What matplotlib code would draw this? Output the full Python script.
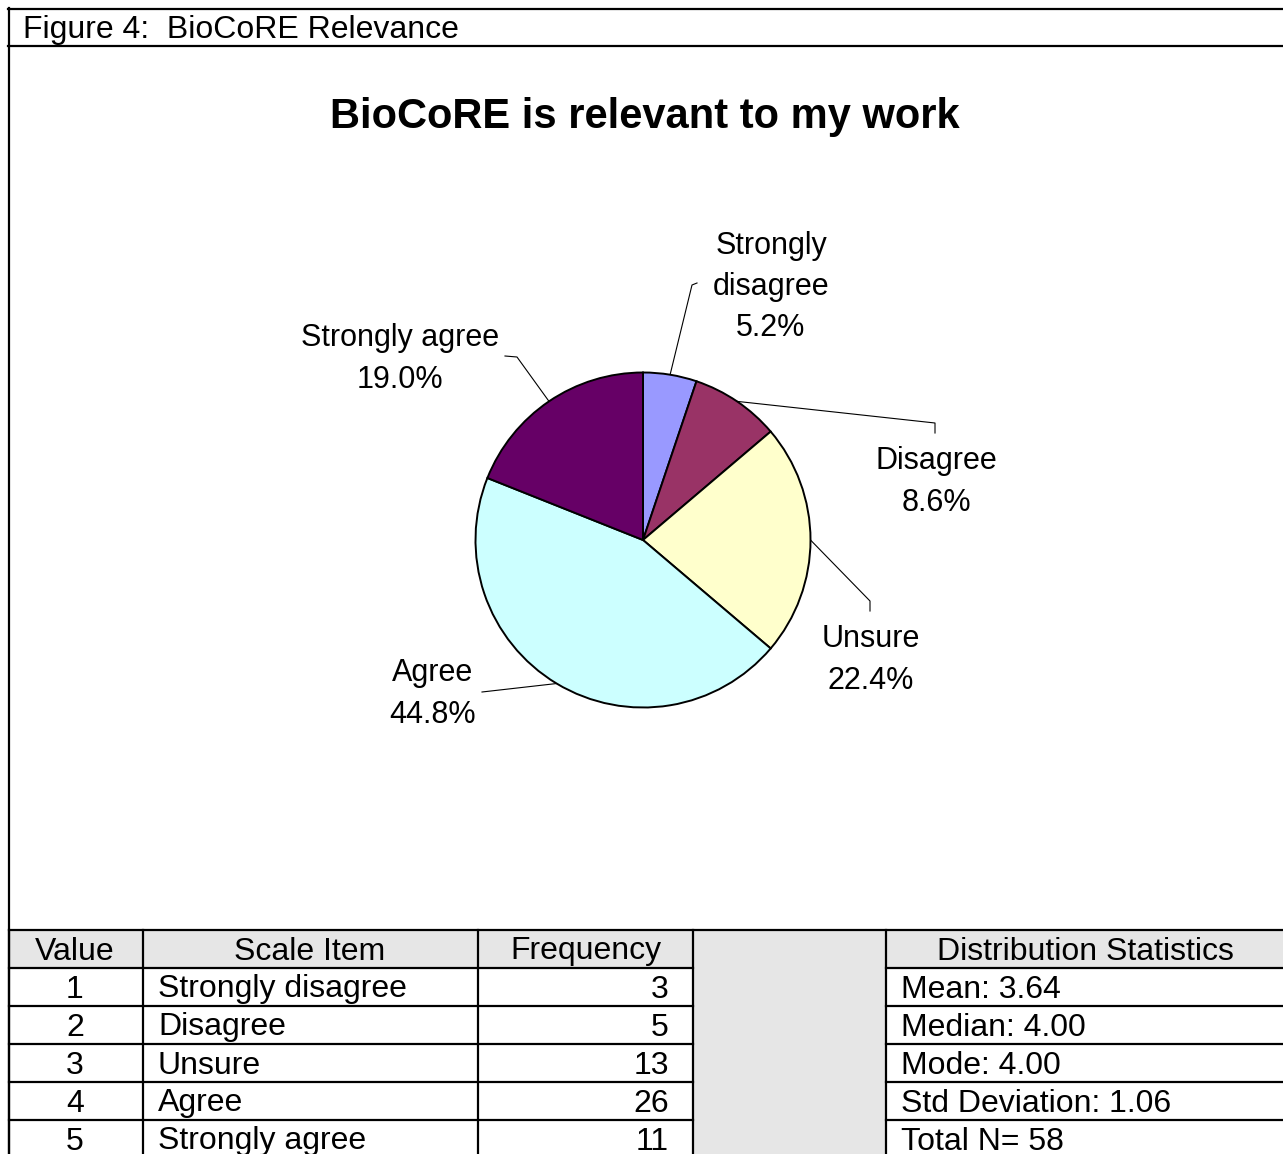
import numpy as np
import matplotlib
matplotlib.use("Agg")
import matplotlib.pyplot as plt

plt.rcParams["font.family"] = ["Liberation Sans", "DejaVu Sans"]

# data
values = [1, 2, 3, 4, 5]
scale_items = ["Strongly disagree", "Disagree", "Unsure", "Agree", "Strongly agree"]
frequency = [3, 5, 13, 26, 11]
pie_labels = ["Strongly\ndisagree", "Disagree", "Unsure", "Agree", "Strongly agree"]
colors = ["#9999FF", "#993366", "#FFFFCC", "#CCFFFF", "#660066"]
stat_names = ["Mean: ", "Median: ", "Mode: ", "Std Deviation: ", "Total N= "]
stat_values = ["3.64", "4.00", "4.00", "1.06", "58"]

W, H = 1283, 1154

# label layout in pixels: text centre, leader elbow points
label_pos = [(771, 287), (936, 482), (871, 660), (433, 694), (400, 359)]
leader_pts = [
    [(692, 285), (697, 283)],
    [(935, 423), (935, 433)],
    [(870, 601), (870, 611)],
    [(482, 692)],
    [(517, 357), (505, 356)],
]

fig = plt.figure(figsize=(W / 100, H / 100), dpi=100)
fig.patch.set_facecolor("white")

# overlay in pixel coords
ov = fig.add_axes([0, 0, 1, 1])
ov.set_xlim(0, W)
ov.set_ylim(H, 0)
ov.axis("off")

# pie
cx, cy, r = 643, 540, 167.5
axp = fig.add_axes([(cx - r) / W, 1 - (cy + r) / H, 2 * r / W, 2 * r / H])
wedges, _ = axp.pie(frequency, colors=colors, startangle=90, counterclock=False,
                    wedgeprops=dict(edgecolor="black", linewidth=1.4))
axp.set_xlim(-1, 1)
axp.set_ylim(-1, 1)
axp.set_aspect("equal")
axp.axis("off")

pct = [100 * f / sum(frequency) for f in frequency]
for w, lab, p, pos, pts in zip(wedges, pie_labels, pct, label_pos, leader_pts):
    mid = np.deg2rad((w.theta1 + w.theta2) / 2)
    sx = cx + r * np.cos(mid)
    sy = cy - r * np.sin(mid)
    xs = [sx] + [q[0] for q in pts]
    ys = [sy] + [q[1] for q in pts]
    ov.plot(xs, ys, color="black", lw=0.8, zorder=3)
    ov.text(pos[0], pos[1], f"{lab}\n{p:.1f}%", ha="center", va="center",
            fontsize=22, linespacing=1.48, zorder=4)

# caption box
lw = 1.6
ov.plot([8, W], [8.5, 8.5], color="black", lw=lw)
ov.plot([8, W], [46, 46], color="black", lw=lw)
ov.plot([8.5, 8.5], [8, H], color="black", lw=lw)
ov.text(23, 30, "Figure 4:  BioCoRE Relevance", fontsize=23, ha="left", va="center")
ov.text(645, 117, "BioCoRE is relevant to my work", fontsize=30, fontweight="bold",
        ha="center", va="center")

# table
gray = "#E6E6E6"
top = 930
rh = 38
col_x = [8.5, 143, 478, 693, 886, W]
ov.add_patch(plt.Rectangle((8.5, top), 693 - 8.5, rh, facecolor=gray, edgecolor="none"))
ov.add_patch(plt.Rectangle((693, top), 886 - 693, H - top, facecolor=gray, edgecolor="none"))
ov.add_patch(plt.Rectangle((886, top), W - 886, rh, facecolor=gray, edgecolor="none"))
ov.plot([8.5, W], [top, top], color="black", lw=lw)
for i in range(1, 6):
    y = top + i * rh
    ov.plot([8.5, 693], [y, y], color="black", lw=lw)
    ov.plot([886, W], [y, y], color="black", lw=lw)
for x in col_x[:-1]:
    ov.plot([x, x], [top, H], color="black", lw=lw)

fs = 23
ty = top + rh / 2 + 2.5
ov.text(75, ty, "Value", ha="center", va="center", fontsize=fs)
ov.text(310, ty, "Scale Item", ha="center", va="center", fontsize=fs)
ov.text(586, ty, "Frequency", ha="center", va="center", fontsize=fs)
ov.text(1085, ty, "Distribution Statistics", ha="center", va="center", fontsize=fs)
for i, (v, s, f, sn, sv) in enumerate(zip(values, scale_items, frequency, stat_names, stat_values)):
    y = top + (i + 1.5) * rh + 2.5
    ov.text(75, y, str(v), ha="center", va="center", fontsize=fs)
    ov.text(158, y, s, ha="left", va="center", fontsize=fs)
    ov.text(669, y, str(f), ha="right", va="center", fontsize=fs)
    ov.text(901, y, sn + sv, ha="left", va="center", fontsize=fs)

fig.savefig("out.png", dpi=100)
